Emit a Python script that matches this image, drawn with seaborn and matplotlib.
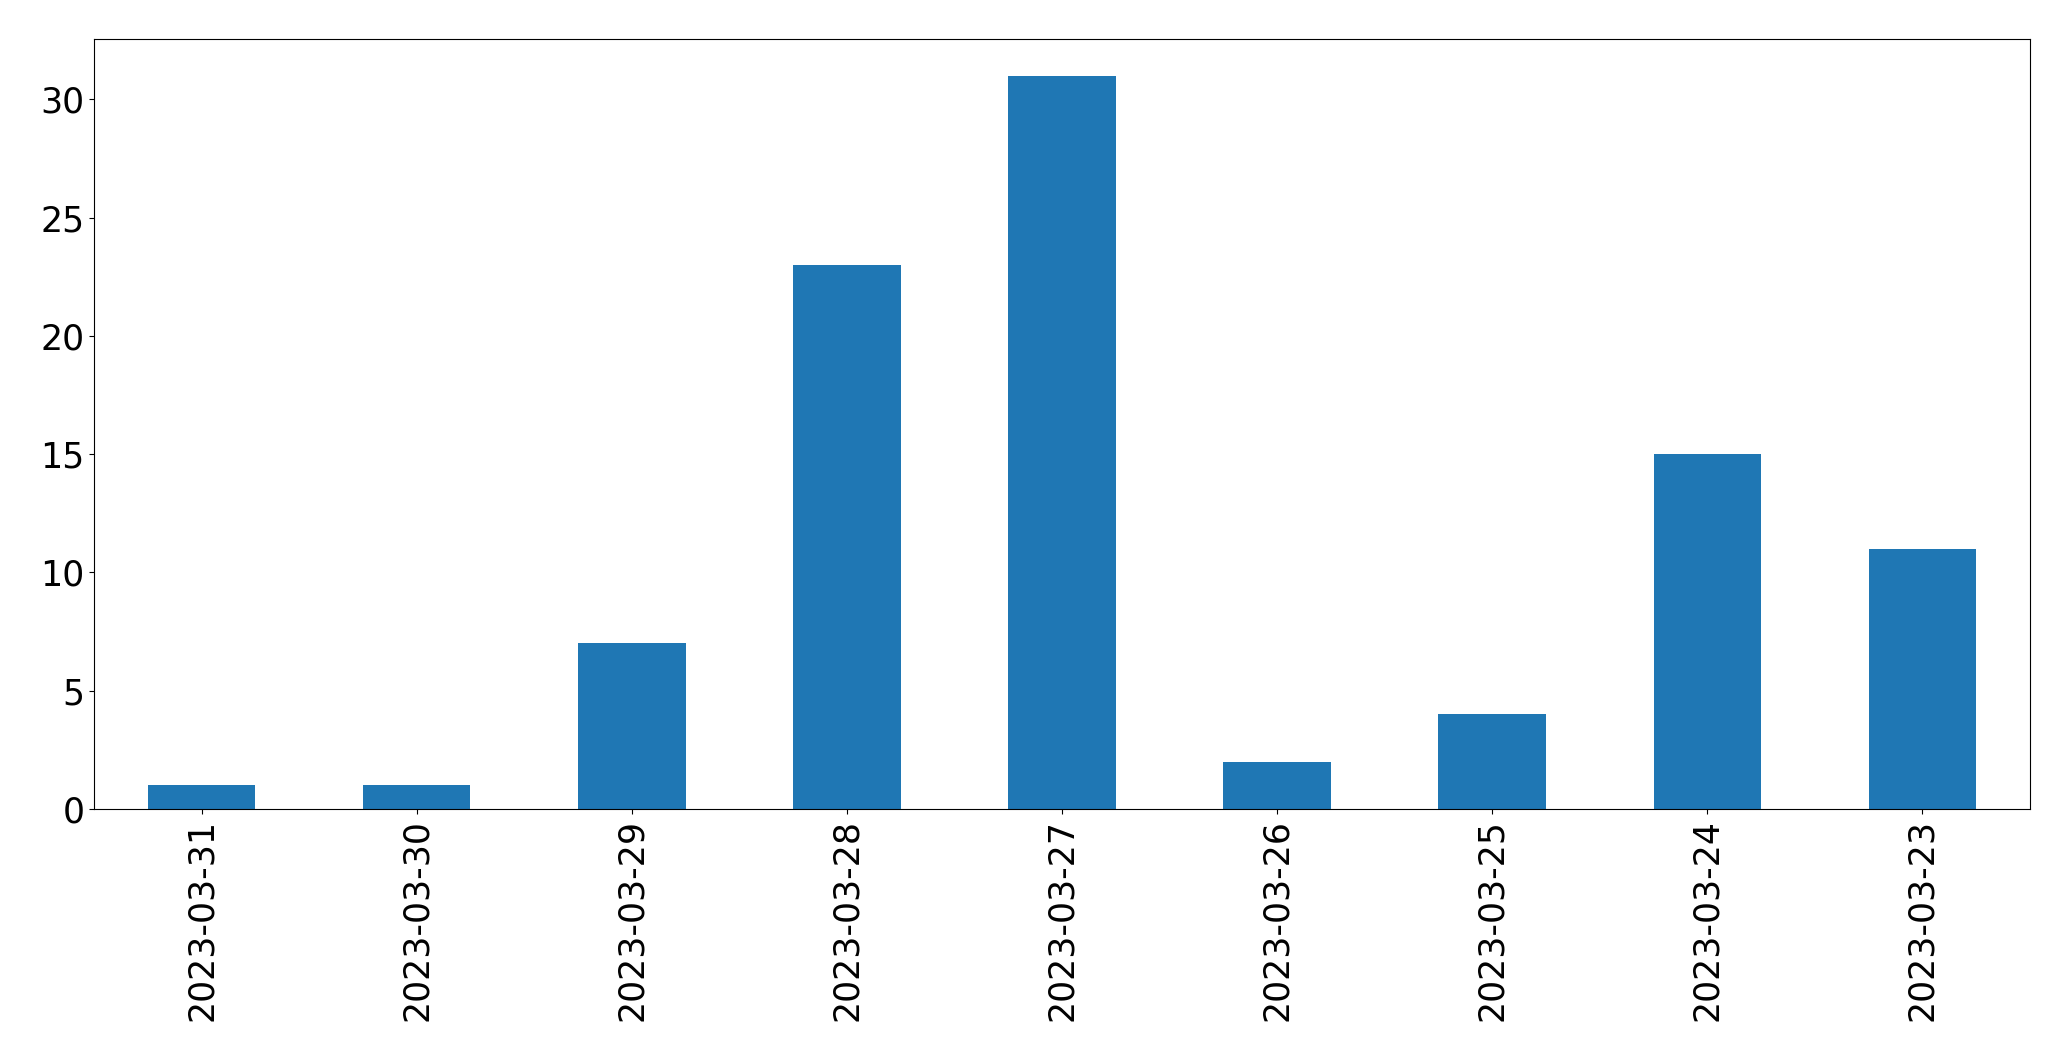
import matplotlib
matplotlib.use("Agg")
import matplotlib.pyplot as plt
import seaborn as sns
import pandas as pd

dates = ["2023-03-31", "2023-03-30", "2023-03-29", "2023-03-28", "2023-03-27",
         "2023-03-26", "2023-03-25", "2023-03-24", "2023-03-23"]
counts = [1, 1, 7, 23, 31, 2, 4, 15, 11]

sns.set_style("ticks")
plt.rcParams['font.family'] = ['DejaVu Sans']

df = pd.DataFrame({"date": dates, "count": counts})

fig = plt.figure(figsize=(20.71, 10.61), dpi=100)
ax = fig.add_axes([94/2071, 1 - 809/1061, (2030 - 94)/2071, (809 - 39)/1061])
sns.barplot(data=df, x="date", y="count", order=dates, color="#1f77b4",
            saturation=1, width=0.5, linewidth=0, ax=ax)
ax.set_xlim(-0.5, len(dates) - 0.5)
ax.set_ylim(0, 32.55)
ax.set_xlabel("")
ax.set_ylabel("")
ax.tick_params(axis="both", labelsize=25, length=3.5, width=0.8,
               colors="black", labelcolor="black")
ax.tick_params(axis="x", rotation=90)
for s in ax.spines.values():
    s.set_visible(True)
    s.set_linewidth(0.8)
    s.set_color("black")
fig.savefig("out.png", dpi=100)
